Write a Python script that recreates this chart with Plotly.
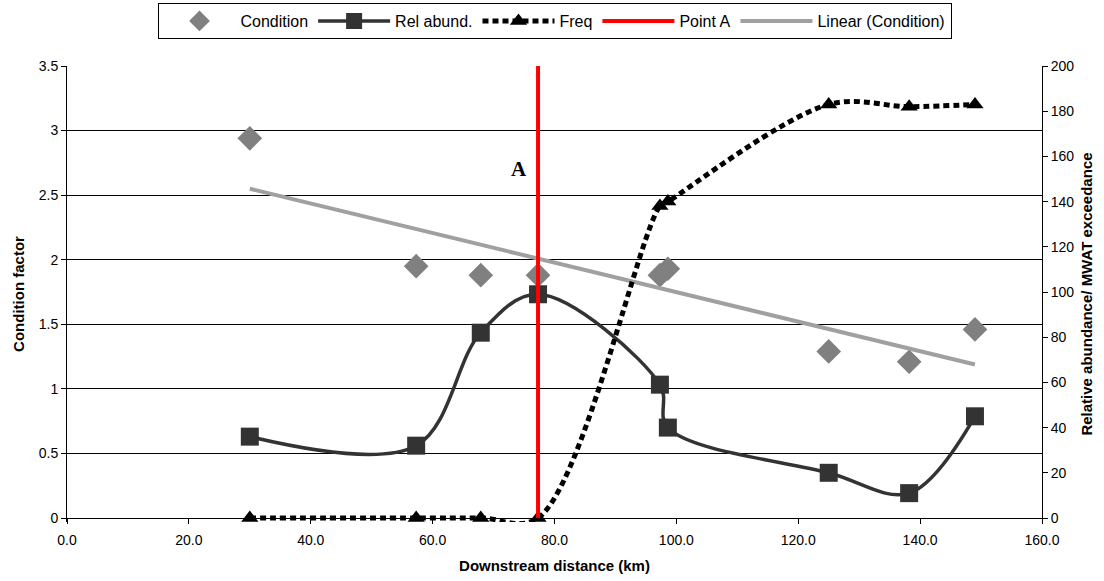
import numpy as np
import plotly.graph_objects as go

# Data
distance = [30.0, 57.3, 67.9, 77.3, 97.3, 98.6, 125.0, 138.2, 149.0]
condition = [2.94, 1.95, 1.88, 1.88, 1.88, 1.93, 1.29, 1.21, 1.46]
rel_abund = [36, 32, 82, 99, 59, 40, 20, 11, 45]
freq = [0, 0, 0, 0, 138, 140, 183, 182, 183]
point_a_x = 77.3
point_a_y = [0, 200]
label_a = "A"
label_a_pos = (74.2, 2.70)

# Linear trendline for Condition
slope, intercept = np.polyfit(distance, condition, 1)
trend_x = [min(distance), max(distance)]
trend_y = [slope * x + intercept for x in trend_x]

FONT = "Liberation Sans, Arial, sans-serif"

# Geometry: plot area 0..3.5 spans 452 px; extend a few px below zero so the
# thick dashed line lying on the axis is not cut in half.
H, W = 581, 1104
T, B0 = 66, 63
EXT = 4
span = H - T - B0  # 452
left_lo = -EXT * 3.5 / span
right_lo = -EXT * 200 / span
xpos = EXT / (span + EXT)

fig = go.Figure()

fig.add_trace(go.Scatter(
    x=distance, y=condition, mode="markers", name="Condition",
    marker=dict(symbol="diamond", size=19, color="#808080"),
    cliponaxis=False, yaxis="y"))

fig.add_trace(go.Scatter(
    x=distance, y=rel_abund, mode="lines+markers", name="Rel abund.",
    line=dict(color="#333333", width=3.5, shape="spline", smoothing=1.0),
    marker=dict(symbol="square", size=18, color="#333333"),
    cliponaxis=False, yaxis="y2"))

fig.add_trace(go.Scatter(
    x=distance, y=freq, mode="lines+markers", name="Freq",
    line=dict(color="#000000", width=5, dash="6px,4px", shape="spline", smoothing=1.0),
    marker=dict(symbol="triangle-up", size=15, color="#000000"),
    cliponaxis=False, yaxis="y2"))

fig.add_trace(go.Scatter(
    x=[point_a_x, point_a_x], y=point_a_y, mode="lines", name="Point A",
    line=dict(color="#FF0000", width=4),
    yaxis="y2"))

fig.add_trace(go.Scatter(
    x=trend_x, y=trend_y, mode="lines", name="Linear (Condition)",
    line=dict(color="#A0A0A0", width=4),
    yaxis="y"))

fig.add_annotation(
    x=label_a_pos[0], y=label_a_pos[1], xref="x", yref="y",
    text="<b>" + label_a + "</b>", showarrow=False,
    font=dict(family="Liberation Serif", size=21, color="#000000"))

tick_font = dict(family=FONT, size=14, color="#000000")
title_font = dict(family=FONT, size=15, color="#000000")

fig.update_layout(
    width=W, height=H,
    margin=dict(l=67, r=62, t=T, b=B0 - EXT, autoexpand=False),
    paper_bgcolor="white", plot_bgcolor="white",
    font=dict(family=FONT, size=14, color="#000000"),
    showlegend=True,
    legend=dict(
        orientation="h", x=0.5, xanchor="center",
        yref="container", y=1 - 3 / H, yanchor="top",
        bordercolor="#000000", borderwidth=1,
        font=dict(family=FONT, size=16, color="#000000"),
        itemwidth=72, tracegroupgap=0),
    xaxis=dict(
        range=[0, 160], dtick=20, tick0=0, tickformat=".1f",
        anchor="free", position=xpos,
        showline=True, linecolor="#000000", linewidth=1,
        ticks="outside", ticklen=5, tickcolor="#000000",
        ticklabelstandoff=4,
        showgrid=False, zeroline=False, automargin=False,
        tickfont=tick_font,
        title=dict(text="<b>Downstream distance (km)</b>",
                   font=title_font, standoff=13)),
    yaxis=dict(
        range=[left_lo, 3.5], dtick=0.5, tick0=0,
        showline=True, linecolor="#000000", linewidth=1,
        ticks="outside", ticklen=5, tickcolor="#000000",
        showgrid=True, gridcolor="#000000", gridwidth=1, zeroline=False,
        automargin=False, tickfont=tick_font,
        title=dict(text="<b>Condition factor</b>",
                   font=title_font, standoff=10)),
    yaxis2=dict(
        range=[right_lo, 200], dtick=20, tick0=0, overlaying="y", side="right",
        showline=True, linecolor="#000000", linewidth=1,
        ticks="outside", ticklen=5, tickcolor="#000000",
        showgrid=False, zeroline=False, automargin=False, tickfont=tick_font,
        title=dict(text="<b>Relative abundance/ MWAT exceedance</b>",
                   font=title_font, standoff=8)),
)

fig.write_html("out.html", config={"displayModeBar": False},
               post_script="document.body.style.margin='0px';")
